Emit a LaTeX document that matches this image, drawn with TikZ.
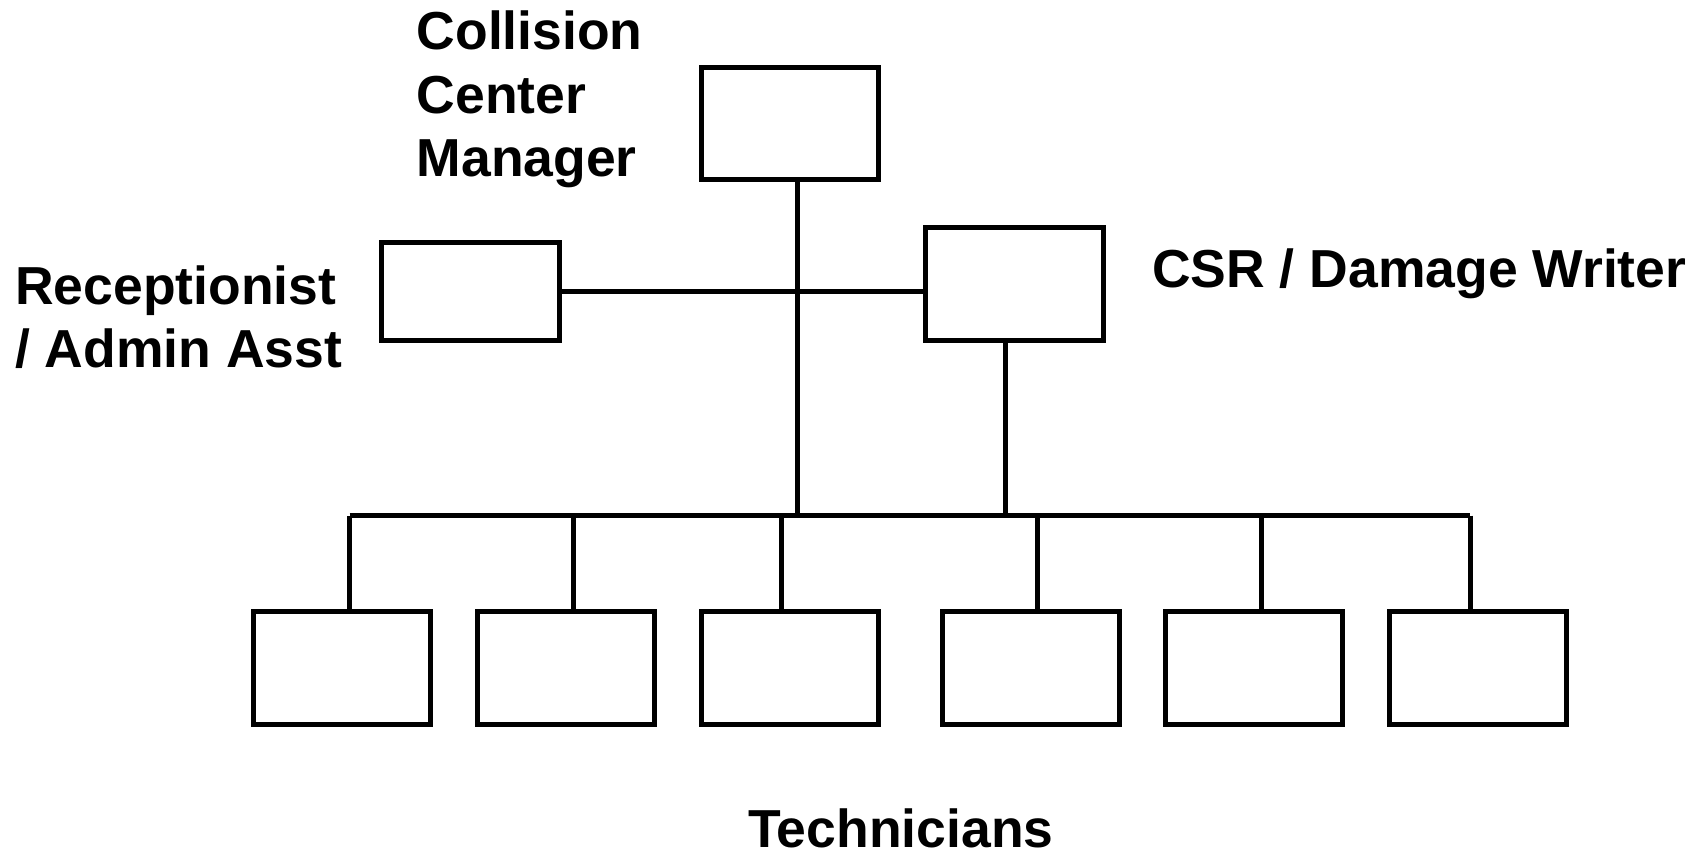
\documentclass[tikz,border=0pt]{standalone}
\usepackage{fontspec}
\setmainfont{Liberation Sans}
\begin{document}
\begin{tikzpicture}[x=1pt,y=-1pt,
  box/.style={draw=black, line width=5pt, inner sep=0pt, minimum width=177pt, minimum height=113pt, fill=white},
  link/.style={draw=black, line width=5pt},
  lbl/.style={anchor=base west, inner sep=0pt, font=\fontsize{53.5}{64}\selectfont\bfseries}]
\useasboundingbox[fill=white] (0,0) rectangle (1695,853);

% boxes
\node[box, minimum width=177pt, minimum height=112.5pt] (mgr) at (789.6,123.7) {};
\node[box, minimum width=178.5pt, minimum height=97pt] (rec) at (470.3,291.5) {};
\node[box, minimum width=178pt, minimum height=112.5pt] (csr) at (1014,283.8) {};
\node[box] (t1) at (342,667.5) {};
\node[box] (t2) at (566.2,667.5) {};
\node[box] (t3) at (789.9,667.5) {};
\node[box] (t4) at (1030.5,667.5) {};
\node[box] (t5) at (1254.2,667.5) {};
\node[box] (t6) at (1478.4,667.5) {};

% bus coordinates
\coordinate (d1) at (349.6,515.7);
\coordinate (d2) at (573.8,515.7);
\coordinate (d3) at (781.8,515.7);
\coordinate (d4) at (1037.4,515.7);
\coordinate (d5) at (1261.6,515.7);
\coordinate (d6) at (1470,515.7);
\coordinate (m) at (797.9,515.7);
\coordinate (c) at (1005.5,515.7);

% connectors
\draw[link] (rec.east) -- (rec.east -| csr.west);
\draw[link] (mgr.south -| m) -- (m);
\draw[link] (csr.south -| c) -- (c);
\draw[link] (d1) -- (d6);
\foreach \i in {1,...,6} {\draw[link] (d\i) -- (d\i |- t\i.north);}

% labels
\node[lbl] (l1) at (416.5,49.7) {Collision};
\node[lbl] (l2) at (416.5,113.5) {Center};
\node[lbl] (l3) at (416.5,176.5) {Manager};
\node[lbl] (l4) at (15,304) {Receptionist};
\node[lbl] (l5) at (15,367.5) {/ Admin Asst};
\node[lbl] (l6) at (1152,287.5) {CSR / Damage Writer};
\node[lbl, text depth=0pt] (l7) at (748,847) {Technicians};
\end{tikzpicture}
\end{document}
